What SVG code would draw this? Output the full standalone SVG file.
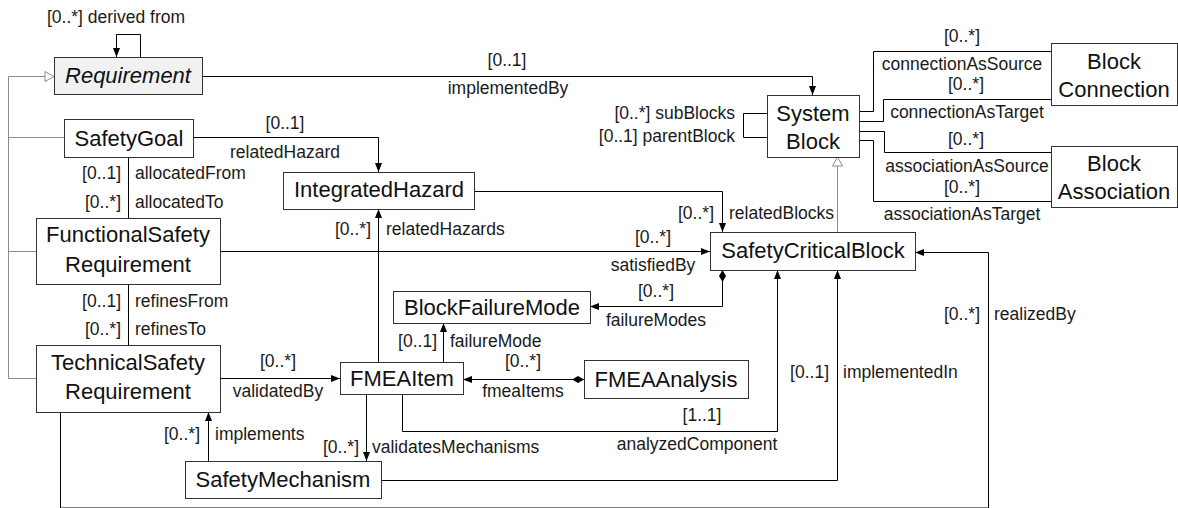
<svg xmlns="http://www.w3.org/2000/svg" width="1178" height="508" viewBox="0 0 1178 508">
  <style>
    .box { fill: #ffffff; stroke: #333333; stroke-width: 1; }
    .abstract { fill: #f1f1f1; }
    .name { font-family: "Liberation Sans", Arial, Helvetica, sans-serif; font-size: 22px; fill: #111111; text-anchor: middle; }
    .italic { font-style: italic; }
    .lbl { font-family: "Liberation Sans", Arial, Helvetica, sans-serif; font-size: 17.5px; fill: #1a1a1a; }
    .mid { text-anchor: middle; }
    .end { text-anchor: end; }
    .assoc { fill: none; stroke: #000000; stroke-width: 1; }
    .arrow { marker-end: url(#arrowHead); }
    .compose { marker-start: url(#diamond); }
    .gen { fill: none; stroke: #8c8c8c; stroke-width: 1; }
    .genTip { marker-end: url(#hollowTri); }
  </style>
  <defs>
    <marker id="arrowHead" viewBox="0 0 9 7" refX="9" refY="3.5" markerWidth="9" markerHeight="7" markerUnits="userSpaceOnUse" orient="auto">
      <path d="M0,0 L9,3.5 L0,7 z" fill="#000000"/>
    </marker>
    <marker id="diamond" viewBox="0 0 12 7" refX="0" refY="3.5" markerWidth="12" markerHeight="7" markerUnits="userSpaceOnUse" orient="auto">
      <path d="M0,3.5 L6,0 L12,3.5 L6,7 z" fill="#000000"/>
    </marker>
    <marker id="hollowTri" viewBox="-1 -1 11 12" refX="9" refY="5" markerWidth="11" markerHeight="12" markerUnits="userSpaceOnUse" orient="auto">
      <path d="M0,0 L9,5 L0,10 z" fill="#ffffff" stroke="#8c8c8c" stroke-width="1"/>
    </marker>
  </defs>

  <!-- connectors -->
  <g id="connectors">
    <!-- generalisation tree -->
    <path class="gen" d="M8.5,76.5 V378.5"/>
    <path class="gen genTip" d="M8.5,76.5 H54"/>
    <path class="gen" d="M8.5,137.5 H64"/>
    <path class="gen" d="M8.5,251.5 H36"/>
    <path class="gen" d="M8.5,378.5 H36"/>
    <path class="gen genTip" d="M837.5,232 V157"/>

    <!-- Requirement self association -->
    <path class="assoc arrow" d="M140.5,57 V34.5 H116.5 V57"/>
    <!-- Requirement to SystemBlock -->
    <path class="assoc arrow" d="M202,76.5 H812.5 V95"/>
    <!-- SystemBlock self association -->
    <path class="assoc" d="M767,113.5 H743.5 V137.5 H767"/>
    <!-- SystemBlock to BlockConnection / BlockAssociation -->
    <path class="assoc" d="M859,111.5 H873.5 V51.5 H1051"/>
    <path class="assoc" d="M859,121.5 H883.5 V99.5 H1051"/>
    <path class="assoc" d="M859,131.5 H884.5 V152.5 H1051"/>
    <path class="assoc" d="M859,140.5 H873.5 V201.5 H1051"/>

    <!-- SafetyGoal to IntegratedHazard -->
    <path class="assoc arrow" d="M193,137.5 H378.5 V172"/>
    <!-- SafetyGoal to FunctionalSafetyRequirement -->
    <path class="assoc" d="M128.5,157 V218"/>
    <!-- FunctionalSafetyRequirement to TechnicalSafetyRequirement -->
    <path class="assoc" d="M128.5,284 V345"/>
    <!-- IntegratedHazard to SafetyCriticalBlock -->
    <path class="assoc arrow" d="M474,191.5 H722.5 V232"/>
    <!-- FunctionalSafetyRequirement to SafetyCriticalBlock -->
    <path class="assoc arrow" d="M220,251.5 H710"/>
    <!-- SafetyCriticalBlock owns BlockFailureMode -->
    <path class="assoc compose arrow" d="M722.5,270 V306.5 H590"/>
    <!-- FMEAItem to IntegratedHazard -->
    <path class="assoc arrow" d="M378.5,362 V209"/>
    <!-- FMEAItem to BlockFailureMode -->
    <path class="assoc arrow" d="M443.5,362 V323"/>
    <!-- TechnicalSafetyRequirement to FMEAItem -->
    <path class="assoc arrow" d="M220,378.5 H340"/>
    <!-- FMEAAnalysis owns FMEAItem -->
    <path class="assoc compose arrow" d="M584,379.5 H463"/>
    <!-- FMEAItem to SafetyCriticalBlock -->
    <path class="assoc arrow" d="M402.5,394 V431.5 H777.5 V270"/>
    <!-- SafetyMechanism to TechnicalSafetyRequirement -->
    <path class="assoc arrow" d="M208.5,461 V412"/>
    <!-- FMEAItem to SafetyMechanism -->
    <path class="assoc arrow" d="M366.5,394 V461"/>
    <!-- SafetyMechanism to SafetyCriticalBlock -->
    <path class="assoc arrow" d="M381,480.5 H837.5 V270"/>
    <!-- TechnicalSafetyRequirement to SafetyCriticalBlock -->
    <path class="assoc arrow" d="M60.5,412 V508 H988.5 V252.5 H915"/>

    <!-- association labels -->
    <text class="lbl mid" x="116" y="23">[0..*] derived from</text>
    <text class="lbl mid" x="507" y="66">[0..1]</text>
    <text class="lbl mid" x="508" y="94">implementedBy</text>
    <text class="lbl end" x="735" y="119">[0..*] subBlocks</text>
    <text class="lbl end" x="735" y="142">[0..1] parentBlock</text>
    <text class="lbl mid" x="962" y="42">[0..*]</text>
    <text class="lbl mid" x="962" y="70">connectionAsSource</text>
    <text class="lbl mid" x="966" y="90">[0..*]</text>
    <text class="lbl mid" x="967" y="118">connectionAsTarget</text>
    <text class="lbl mid" x="966" y="145">[0..*]</text>
    <text class="lbl mid" x="967" y="172">associationAsSource</text>
    <text class="lbl mid" x="962" y="193">[0..*]</text>
    <text class="lbl mid" x="962" y="220">associationAsTarget</text>
    <text class="lbl mid" x="285" y="129">[0..1]</text>
    <text class="lbl mid" x="285" y="158">relatedHazard</text>
    <text class="lbl end" x="121" y="179">[0..1]</text>
    <text class="lbl" x="135" y="179">allocatedFrom</text>
    <text class="lbl end" x="121" y="208">[0..*]</text>
    <text class="lbl" x="135" y="208">allocatedTo</text>
    <text class="lbl end" x="121" y="307">[0..1]</text>
    <text class="lbl" x="135" y="307">refinesFrom</text>
    <text class="lbl end" x="121" y="335">[0..*]</text>
    <text class="lbl" x="135" y="335">refinesTo</text>
    <text class="lbl end" x="714" y="219">[0..*]</text>
    <text class="lbl" x="729" y="219">relatedBlocks</text>
    <text class="lbl end" x="371" y="235">[0..*]</text>
    <text class="lbl" x="386" y="235">relatedHazards</text>
    <text class="lbl mid" x="653" y="243">[0..*]</text>
    <text class="lbl mid" x="653" y="271">satisfiedBy</text>
    <text class="lbl mid" x="656" y="297">[0..*]</text>
    <text class="lbl mid" x="656" y="326">failureModes</text>
    <text class="lbl end" x="437" y="347">[0..1]</text>
    <text class="lbl" x="450" y="347">failureMode</text>
    <text class="lbl mid" x="278" y="367">[0..*]</text>
    <text class="lbl mid" x="278" y="397">validatedBy</text>
    <text class="lbl mid" x="523" y="367">[0..*]</text>
    <text class="lbl mid" x="523" y="397">fmeaItems</text>
    <text class="lbl mid" x="702" y="421">[1..1]</text>
    <text class="lbl mid" x="697" y="450">analyzedComponent</text>
    <text class="lbl end" x="200" y="440">[0..*]</text>
    <text class="lbl" x="215" y="440">implements</text>
    <text class="lbl end" x="359" y="453">[0..*]</text>
    <text class="lbl" x="372" y="453">validatesMechanisms</text>
    <text class="lbl end" x="829" y="378">[0..1]</text>
    <text class="lbl" x="843" y="378">implementedIn</text>
    <text class="lbl end" x="980" y="320">[0..*]</text>
    <text class="lbl" x="994" y="320">realizedBy</text>
  </g>

  <!-- nodes -->
  <g id="requirement">
    <rect class="box abstract" x="54.5" y="57.5" width="148" height="37"/>
    <text class="name italic" x="128" y="83">Requirement</text>
  </g>
  <g id="systemBlock">
    <rect class="box" x="767.5" y="95.5" width="92" height="62"/>
    <text class="name" x="813" y="121">System</text>
    <text class="name" x="813" y="149">Block</text>
  </g>
  <g id="blockConnection">
    <rect class="box" x="1051.5" y="43.5" width="126" height="62"/>
    <text class="name" x="1114" y="69">Block</text>
    <text class="name" x="1114" y="97">Connection</text>
  </g>
  <g id="blockAssociation">
    <rect class="box" x="1051.5" y="146.5" width="126" height="61"/>
    <text class="name" x="1114" y="171">Block</text>
    <text class="name" x="1114" y="199">Association</text>
  </g>
  <g id="safetyGoal">
    <rect class="box" x="64.5" y="119.5" width="129" height="38"/>
    <text class="name" x="129" y="146">SafetyGoal</text>
  </g>
  <g id="integratedHazard">
    <rect class="box" x="283.5" y="172.5" width="191" height="37"/>
    <text class="name" x="379" y="197">IntegratedHazard</text>
  </g>
  <g id="functionalSafetyRequirement">
    <rect class="box" x="36.5" y="218.5" width="184" height="66"/>
    <text class="name" x="128" y="242">FunctionalSafety</text>
    <text class="name" x="128" y="272">Requirement</text>
  </g>
  <g id="safetyCriticalBlock">
    <rect class="box" x="710.5" y="232.5" width="205" height="38"/>
    <text class="name" x="813" y="258">SafetyCriticalBlock</text>
  </g>
  <g id="blockFailureMode">
    <rect class="box" x="393.5" y="291.5" width="197" height="32"/>
    <text class="name" x="492" y="315">BlockFailureMode</text>
  </g>
  <g id="technicalSafetyRequirement">
    <rect class="box" x="36.5" y="345.5" width="184" height="67"/>
    <text class="name" x="128" y="370">TechnicalSafety</text>
    <text class="name" x="128" y="399">Requirement</text>
  </g>
  <g id="fmeaItem">
    <rect class="box" x="340.5" y="362.5" width="123" height="32"/>
    <text class="name" x="402" y="386">FMEAItem</text>
  </g>
  <g id="fmeaAnalysis">
    <rect class="box" x="584.5" y="360.5" width="164" height="38"/>
    <text class="name" x="666" y="387">FMEAAnalysis</text>
  </g>
  <g id="safetyMechanism">
    <rect class="box" x="185.5" y="461.5" width="196" height="37"/>
    <text class="name" x="283" y="487">SafetyMechanism</text>
  </g>
</svg>
